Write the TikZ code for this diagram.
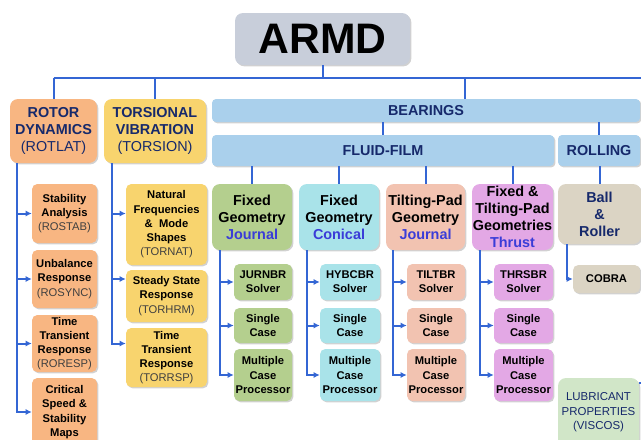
\documentclass[tikz,border=0pt]{standalone}
\usepackage{fontspec}
\setmainfont{Liberation Sans}
\usetikzlibrary{positioning, arrows.meta, calc, shadows}

\definecolor{armdgray}{HTML}{C8CEDA}
\definecolor{rotorange}{HTML}{F8B682}
\definecolor{torsyellow}{HTML}{F8D46E}
\definecolor{bearblue}{HTML}{AAD0EC}
\definecolor{fixgreen}{HTML}{B4CF8E}
\definecolor{concyan}{HTML}{A9E3E9}
\definecolor{tiltsalmon}{HTML}{F2C3B1}
\definecolor{thrustpink}{HTML}{E3A8E5}
\definecolor{ballbeige}{HTML}{DBD4C4}
\definecolor{lubgreen}{HTML}{D1E6C8}
\definecolor{navytext}{HTML}{16296B}
\definecolor{bluetext}{HTML}{3A3CD8}
\definecolor{linkblue}{HTML}{3466D4}

\begin{document}
\begin{tikzpicture}
[
    x=0.75pt, y=-0.75pt,
    every node/.style={inner sep=0pt, align=center},
    box_base/.style={rounded corners=5pt, drop shadow={shadow xshift=1pt, shadow yshift=-1pt, opacity=0.3, fill=black!60}},
    head_box/.style={box_base, rounded corners=6pt, font=\fontsize{10.8}{12.7}\selectfont\bfseries, text=navytext},
    bar_box/.style={box_base, rounded corners=3pt, fill=bearblue, font=\fontsize{10.8}{12.7}\selectfont\bfseries, text=navytext},
    geo_box/.style={box_base, rounded corners=6pt, minimum height=49.5pt, font=\fontsize{10.8}{12.7}\selectfont\bfseries},
    sub_box/.style={box_base, rounded corners=4pt, font=\fontsize{8.4}{10.7}\selectfont\bfseries},
    link/.style={draw=linkblue, line width=1.5pt},
    arrow_link/.style={link, -{Latex[length=4.5pt, width=4.5pt]}},
]
    \useasboundingbox (0,0) rectangle (641,439) ;
    \clip (0,0) rectangle (641,439) ;

    % top level
    \node[box_base, rounded corners=6pt, fill=armdgray, minimum width=131.25pt, minimum height=39pt, font=\fontsize{32}{36}\selectfont\bfseries] (armd) at (322.5,39) {ARMD} ;
    \node[head_box, fill=rotorange, minimum width=65.25pt, minimum height=48pt] (rotor) at (53.5,131) {ROTOR\\DYNAMICS\\\mdseries(ROTLAT)} ;
    \node[head_box, fill=torsyellow, minimum width=76.5pt, minimum height=48pt] (torsion) at (155,131) {TORSIONAL\\VIBRATION\\\mdseries(TORSION)} ;
    \node[bar_box, minimum width=321pt, minimum height=17.25pt] (bearings) at (426,110.5) {BEARINGS} ;
    \node[bar_box, minimum width=256.5pt, minimum height=23.25pt] (fluid) at (383,150.5) {FLUID-FILM} ;
    \node[bar_box, minimum width=61.5pt, minimum height=23.25pt] (rolling) at (599,150.5) {ROLLING} ;

    % bearing types
    \node[geo_box, fill=fixgreen, minimum width=60pt] (fixj) at (252,217) {Fixed\\Geometry\\\textcolor{bluetext}{Journal}} ;
    \node[geo_box, fill=concyan, minimum width=60pt] (fixc) at (339,217) {Fixed\\Geometry\\\textcolor{bluetext}{Conical}} ;
    \node[geo_box, fill=tiltsalmon, minimum width=59.25pt] (tilt) at (425.5,217) {Tilting-Pad\\Geometry\\\textcolor{bluetext}{Journal}} ;
    \node[geo_box, fill=thrustpink, minimum width=60.75pt] (thrust) at (512.5,217) {Fixed \&\\Tilting-Pad\\Geometries\\\textcolor{bluetext}{Thrust}} ;
    \node[geo_box, fill=ballbeige, minimum width=62.25pt, minimum height=45pt, text=navytext] (ball) at (599.5,214) {Ball\\\&\\Roller} ;

    % rotor dynamics codes
    \node[sub_box, fill=rotorange, minimum width=48.75pt, minimum height=44.25pt] (rostab) at (64.5,213.5) {Stability\\Analysis\\\mdseries\color{black!75}(ROSTAB)} ;
    \node[sub_box, fill=rotorange, minimum width=48.75pt, minimum height=43.5pt] (rosync) at (64.5,279) {Unbalance\\Response\\\mdseries\color{black!75}(ROSYNC)} ;
    \node[sub_box, fill=rotorange, minimum width=48.75pt, minimum height=42.75pt] (roresp) at (64.5,343.5) {Time\\Transient\\Response\\\mdseries\color{black!75}(RORESP)} ;
    \node[sub_box, fill=rotorange, minimum width=48.75pt, minimum height=51pt] (rocrit) at (64.5,412) {Critical\\Speed \&\\Stability\\Maps} ;

    % torsional vibration codes
    \node[sub_box, fill=torsyellow, minimum width=60.75pt, minimum height=60.75pt] (tornat) at (166.5,224.5) {Natural\\Frequencies\\\& ~Mode\\Shapes\\\mdseries\color{black!75}(TORNAT)} ;
    \node[sub_box, fill=torsyellow, minimum width=60.75pt, minimum height=39pt] (torhrm) at (166.5,296) {Steady State\\Response\\\mdseries\color{black!75}(TORHRM)} ;
    \node[sub_box, fill=torsyellow, minimum width=60.75pt, minimum height=44.25pt] (torrsp) at (166.5,357.5) {Time\\Transient\\Response\\\mdseries\color{black!75}(TORRSP)} ;

    % fixed geometry journal
    \node[sub_box, fill=fixgreen, minimum width=43.5pt, minimum height=27pt] (jsolve) at (263,282) {JURNBR\\Solver} ;
    \node[sub_box, fill=fixgreen, minimum width=43.5pt, minimum height=26.25pt] (jsingle) at (263,325.5) {Single\\Case} ;
    \node[sub_box, fill=fixgreen, minimum width=43.5pt, minimum height=39pt] (jmulti) at (263,375) {Multiple\\Case\\Processor} ;

    % fixed geometry conical
    \node[sub_box, fill=concyan, minimum width=45pt, minimum height=27pt] (csolve) at (350,282) {HYBCBR\\Solver} ;
    \node[sub_box, fill=concyan, minimum width=45pt, minimum height=26.25pt] (csingle) at (350,325.5) {Single\\Case} ;
    \node[sub_box, fill=concyan, minimum width=45pt, minimum height=39pt] (cmulti) at (350,375) {Multiple\\Case\\Processor} ;

    % tilting-pad journal
    \node[sub_box, fill=tiltsalmon, minimum width=43.5pt, minimum height=27pt] (tsolve) at (436,282) {TILTBR\\Solver} ;
    \node[sub_box, fill=tiltsalmon, minimum width=43.5pt, minimum height=26.25pt] (tsingle) at (436,325.5) {Single\\Case} ;
    \node[sub_box, fill=tiltsalmon, minimum width=43.5pt, minimum height=39pt] (tmulti) at (436,375) {Multiple\\Case\\Processor} ;

    % thrust
    \node[sub_box, fill=thrustpink, minimum width=44.25pt, minimum height=27pt] (hsolve) at (523.5,282) {THRSBR\\Solver} ;
    \node[sub_box, fill=thrustpink, minimum width=44.25pt, minimum height=26.25pt] (hsingle) at (523.5,325.5) {Single\\Case} ;
    \node[sub_box, fill=thrustpink, minimum width=44.25pt, minimum height=39pt] (hmulti) at (523.5,375) {Multiple\\Case\\Processor} ;

    % rolling element and lubricant
    \node[sub_box, fill=ballbeige, minimum width=50.25pt, minimum height=21pt] (cobra) at (606.5,279) {COBRA} ;
    \node[box_base, rounded corners=6pt, fill=lubgreen, minimum width=60.75pt, minimum height=51.75pt, text=navytext, font=\fontsize{8.6}{11}\selectfont] (lubr) at (598.5,412.5) {LUBRICANT\\PROPERTIES\\(VISCOS)} ;

    % tree links
    \coordinate (busL) at (rotor.north |- 0,78) ;
    \coordinate (busR) at (641,78) ;
    \coordinate (tapB) at (465,78) ;
    \draw[link] (busL) -- (busR) ;
    \draw[link] (armd.south) -- (armd.south |- busL) ;
    \draw[link] (rotor.north) -- (busL) ;
    \draw[link] (torsion.north) -- (torsion.north |- busL) ;
    \draw[link] (tapB) -- (tapB |- bearings.north) ;
    \draw[link] (fluid.north) -- (fluid.north |- bearings.south) ;
    \draw[link] (rolling.north) -- (rolling.north |- bearings.south) ;
    \draw[link] (fixj.north) -- (fixj.north |- fluid.south) ;
    \draw[link] (fixc.north) -- (fixc.north |- fluid.south) ;
    \draw[link] (tilt.north) -- (tilt.north |- fluid.south) ;
    \draw[link] (thrust.north) -- (thrust.north |- fluid.south) ;
    \draw[link] (ball.north) -- (ball.north |- rolling.south) ;
    \draw[link] (lubr.east |- 0,383) -- (641,383) ;

    % side brackets
    \draw[arrow_link] ($(rotor.south west)+(7,0)$) |- (rostab.west) ;
    \draw[arrow_link] ($(rotor.south west)+(7,0)$) |- (rosync.west) ;
    \draw[arrow_link] ($(rotor.south west)+(7,0)$) |- (roresp.west) ;
    \draw[arrow_link] ($(rotor.south west)+(7,0)$) |- (rocrit.west) ;
    \draw[arrow_link] ($(torsion.south west)+(8,0)$) |- (tornat.west |- rostab.west) ;
    \draw[arrow_link] ($(torsion.south west)+(8,0)$) |- (torhrm.west |- rosync.west) ;
    \draw[arrow_link] ($(torsion.south west)+(8,0)$) |- (torrsp.west |- roresp.west) ;
    \draw[arrow_link] ($(fixj.south west)+(8,0)$) |- (jsolve.west) ;
    \draw[arrow_link] ($(fixj.south west)+(8,0)$) |- (jsingle.west) ;
    \draw[arrow_link] ($(fixj.south west)+(8,0)$) |- (jmulti.west) ;
    \draw[arrow_link] ($(fixc.south west)+(8,0)$) |- (csolve.west) ;
    \draw[arrow_link] ($(fixc.south west)+(8,0)$) |- (csingle.west) ;
    \draw[arrow_link] ($(fixc.south west)+(8,0)$) |- (cmulti.west) ;
    \draw[arrow_link] ($(tilt.south west)+(7,0)$) |- (tsolve.west) ;
    \draw[arrow_link] ($(tilt.south west)+(7,0)$) |- (tsingle.west) ;
    \draw[arrow_link] ($(tilt.south west)+(7,0)$) |- (tmulti.west) ;
    \draw[arrow_link] ($(thrust.south west)+(8,0)$) |- (hsolve.west) ;
    \draw[arrow_link] ($(thrust.south west)+(8,0)$) |- (hsingle.west) ;
    \draw[arrow_link] ($(thrust.south west)+(8,0)$) |- (hmulti.west) ;
    \draw[arrow_link] ($(ball.south west)+(9,0)$) |- (cobra.west) ;
\end{tikzpicture}
\end{document}
